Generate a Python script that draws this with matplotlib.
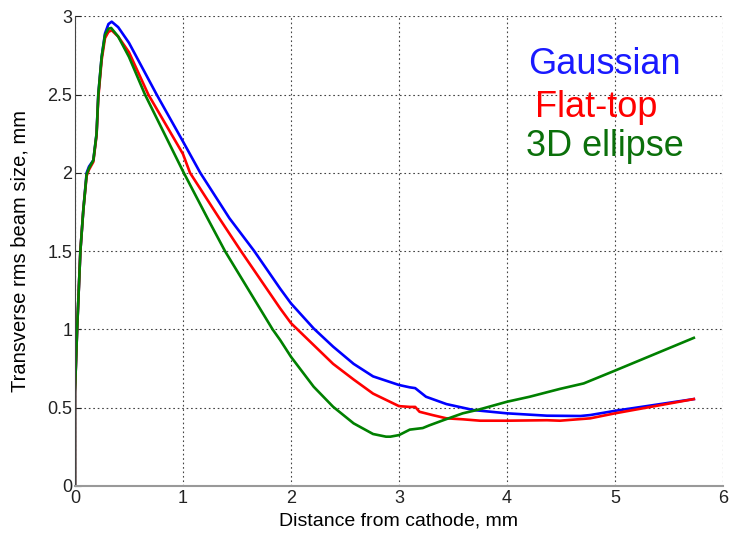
import matplotlib
matplotlib.use("Agg")
import matplotlib.pyplot as plt

# rms beam size along the gun, three initial distributions
x_gauss = [0, 0, 0.02, 0.05, 0.077, 0.108, 0.13, 0.17, 0.20, 0.216, 0.247, 0.278, 0.31, 0.34, 0.40,
           0.50, 0.756, 1.0, 1.16, 1.43, 1.66, 1.90, 2.0, 2.21, 2.39, 2.58, 2.76, 3.0, 3.10,
           3.15, 3.25, 3.44, 3.69, 4.0, 4.37, 4.68, 4.77, 5.0, 5.73]
y_gauss = [0, 0.6, 1.0, 1.5, 1.76, 2.0, 2.04, 2.08, 2.25, 2.5, 2.74, 2.89, 2.95, 2.965, 2.93,
           2.83, 2.5, 2.20, 2.0, 1.71, 1.5, 1.26, 1.166, 1.006, 0.89, 0.78, 0.70, 0.645, 0.63,
           0.625, 0.57, 0.523, 0.485, 0.464, 0.449, 0.447, 0.453, 0.48, 0.555]

x_flat = [0, 0, 0.02, 0.05, 0.077, 0.108, 0.13, 0.17, 0.20, 0.216, 0.247, 0.278, 0.31, 0.34, 0.40,
          0.50, 0.679, 1.0, 1.065, 1.336, 1.537, 1.90, 2.0, 2.21, 2.39, 2.58, 2.76, 3.0,
          3.10, 3.15, 3.19, 3.31, 3.44, 3.59, 3.75, 4.0, 4.37, 4.49, 4.77, 5.0, 5.73]
y_flat = [0, 0.6, 1.0, 1.5, 1.76, 1.98, 2.02, 2.07, 2.24, 2.48, 2.72, 2.86, 2.90, 2.91, 2.87,
          2.77, 2.5, 2.12, 2.0, 1.71, 1.5, 1.134, 1.04, 0.90, 0.78, 0.68, 0.59, 0.51,
          0.505, 0.505, 0.474, 0.453, 0.432, 0.426, 0.417, 0.417, 0.42, 0.417, 0.432, 0.464, 0.555]

x_ell = [0, 0, 0.02, 0.05, 0.077, 0.108, 0.13, 0.17, 0.20, 0.216, 0.247, 0.278, 0.31, 0.335, 0.40,
         0.50, 0.648, 1.0, 1.227, 1.389, 1.83, 1.90, 2.0, 2.21, 2.39, 2.58, 2.76, 2.88, 2.92, 3.0,
         3.10, 3.22, 3.28, 3.41, 3.59, 3.75, 4.0, 4.21, 4.49, 4.71, 4.99, 5.73]
y_ell = [0, 0.6, 1.0, 1.5, 1.76, 1.99, 2.03, 2.08, 2.25, 2.5, 2.74, 2.88, 2.92, 2.925, 2.87,
         2.74, 2.5, 2.01, 1.71, 1.5, 1.0, 0.932, 0.825, 0.634, 0.506, 0.40, 0.332, 0.315, 0.315,
         0.325, 0.36, 0.37, 0.387, 0.42, 0.464, 0.49, 0.538, 0.57, 0.62, 0.655, 0.734, 0.946]

series = [("Gaussian", x_gauss, y_gauss, "#0000ff", "#1a1aff", (4.90, 2.69)),
          ("Flat-top", x_flat, y_flat, "#ff0000", "#ff0000", (4.83, 2.42)),
          ("3D ellipse", x_ell, y_ell, "#008000", "#0b700b", (4.91, 2.165))]

plt.rcParams["font.family"] = ["Liberation Sans", "DejaVu Sans"]

fig = plt.figure(figsize=(7.3, 5.4), dpi=100)
ax = fig.add_axes([0.1027, 0.1, 0.8877, 0.870])

for name, xs, ys, lc, tc, (tx, ty) in series:
    ax.plot(xs, ys, color=lc, lw=1.9, solid_joinstyle="round")
    ax.text(tx, ty, name, color=tc, fontsize=26, ha="center", va="center")

ax.set_xlim(0, 6)
ax.set_ylim(0, 3)
ax.set_xticks(range(7))
ax.set_yticks([0, 0.5, 1, 1.5, 2, 2.5, 3])
ax.set_yticklabels(["0", "0.5", "1", "1.5", "2", "2.5", "3"])
ax.grid(True, color="#444444", ls=(0, (1.5, 2.5)), lw=0.8)
ax.tick_params(direction="in", length=4, labelsize=13, colors="#222222", pad=2)
ax.tick_params(axis="x", length=0, pad=3)

ax.spines["top"].set_visible(False)
ax.spines["right"].set_visible(False)
ax.spines["left"].set_color("#444444")
ax.spines["bottom"].set_color("#999999")
ax.spines["bottom"].set_linewidth(1.5)

ax.set_xlabel("Distance from cathode, mm", fontsize=14, labelpad=4)
ax.set_ylabel("Transverse rms beam size, mm", fontsize=14.5)
ax.yaxis.set_label_coords(-0.070, 0.5)

fig.savefig("out.png", dpi=100)
